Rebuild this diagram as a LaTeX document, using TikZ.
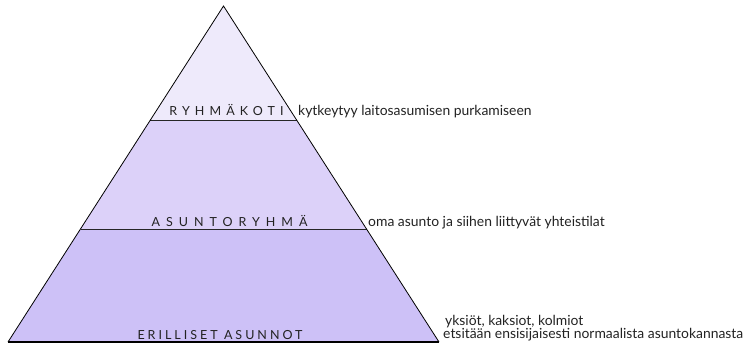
\documentclass[tikz,border=0pt]{standalone}
\usepackage{fontspec}
\setmainfont{Lato}
\newfontfamily\capsA[LetterSpace=41]{Lato}
\newfontfamily\capsB[LetterSpace=48]{Lato}
\newfontfamily\capsC[LetterSpace=24]{Lato}
\definecolor{topc}{HTML}{EEEAFB}
\definecolor{midc}{HTML}{DCD1F9}
\definecolor{botc}{HTML}{CDC1F7}
\definecolor{txt}{HTML}{222222}
\begin{document}
\begin{tikzpicture}[x=1pt,y=-1pt,
  lvl/.style={text=txt, anchor=base, inner sep=0pt},
  note/.style={font=\fontsize{13.9}{16}\selectfont, text=txt, anchor=base west, inner sep=0pt},
  sep/.style={draw=black!85, line width=0.8pt}]
\useasboundingbox (0,0) rectangle (745,345);
% coordinates
\coordinate (apex) at (223.5,6);
\coordinate (bl) at (8,342);
\coordinate (br) at (439,342);
\coordinate (l1) at (150.4,120);
\coordinate (r1) at (296.6,120);
\coordinate (l2) at (80.5,229);
\coordinate (r2) at (366.5,229);
% fills
\fill[topc] (apex) -- (r1) -- (l1) -- cycle;
\fill[midc] (l1) -- (r1) -- (r2) -- (l2) -- cycle;
\fill[botc] (l2) -- (r2) -- (br) -- (bl) -- cycle;
% separators
\draw[sep] (l1) -- (r1);
\draw[sep] (l2) -- (r2);
\draw[black, line width=1.6pt] (bl) -- (br);
\draw[black, line width=0.8pt, line join=miter] (bl) -- (apex) -- (br);
% labels
\node[lvl, font=\capsA\fontsize{12.5}{14}\selectfont] (ryhma) at (226.5,115.5) {RYHMÄKOTI};
\node[lvl, font=\capsB\fontsize{12.5}{14}\selectfont] (asunto) at (229.5,226) {ASUNTORYHMÄ};
\node[lvl, font=\capsC\fontsize{12.5}{14}\selectfont] (erill) at (220,339.5) {ERILLISET ASUNNOT};
\node[note] (n1) at (298,115.5) {kytkeytyy laitosasumisen purkamiseen};
\node[note] (n2) at (368,226) {oma asunto ja siihen liittyvät yhteistilat};
\node[note] (n3) at (445,325) {yksiöt, kaksiot, kolmiot};
\node[note] (n4) at (443,338.5) {etsitään ensisijaisesti normaalista asuntokannasta};
\end{tikzpicture}
\end{document}
